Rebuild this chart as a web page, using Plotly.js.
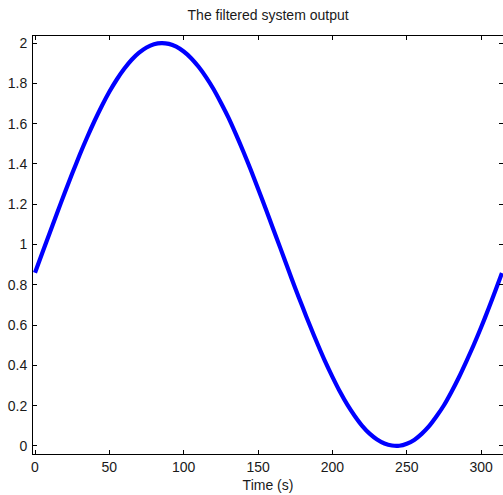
<!DOCTYPE html>
<html>
<head>
<meta charset="utf-8">
<script src="https://cdn.plot.ly/plotly-3.0.1.min.js"></script>
<style>html,body{margin:0;padding:0;background:#fff;}#chart{width:503px;height:495px;}</style>
</head>
<body>
<div id="chart"></div>
<script>
// Time samples (s) and the filtered output
var timeS = [0, 5, 10, 15, 20, 25, 30, 35, 40, 45, 50, 55, 60, 65, 70, 75, 80, 85, 90, 95, 100, 105, 110, 115, 120, 125, 130, 135, 140, 145, 150, 155, 160, 165, 170, 175, 180, 185, 190, 195, 200, 205, 210, 215, 220, 225, 230, 235, 240, 245, 250, 255, 260, 265, 270, 275, 280, 285, 290, 295, 300, 305, 310, 314];
var outputY = [0.86, 0.96, 1.06, 1.159, 1.257, 1.352, 1.444, 1.531, 1.613, 1.689, 1.758, 1.819, 1.872, 1.917, 1.952, 1.978, 1.994, 2.0, 1.996, 1.982, 1.958, 1.925, 1.882, 1.831, 1.772, 1.704, 1.631, 1.549, 1.463, 1.372, 1.277, 1.18, 1.081, 0.982, 0.882, 0.783, 0.688, 0.595, 0.506, 0.421, 0.343, 0.27, 0.205, 0.149, 0.10, 0.061, 0.032, 0.012, 0.002, 0.001, 0.011, 0.03, 0.06, 0.098, 0.147, 0.202, 0.268, 0.34, 0.419, 0.501, 0.589, 0.682, 0.779, 0.858];
var xTicks = [0, 50, 100, 150, 200, 250, 300];
var yTicks = [0, 0.2, 0.4, 0.6, 0.8, 1, 1.2, 1.4, 1.6, 1.8, 2];
var yTickText = ['0', '0.2', '0.4', '0.6', '0.8', '1', '1.2', '1.4', '1.6', '1.8', '2'];

var font = {family: 'Liberation Sans, Arial, sans-serif', size: 14, color: '#1a1a1a'};
var trace = {
  x: timeS, y: outputY, type: 'scatter', mode: 'lines',
  line: {color: '#0000ff', width: 4.2, shape: 'spline', smoothing: 0.8},
  hoverinfo: 'skip'
};
var axisCommon = {
  showgrid: false, zeroline: false, showline: true, linecolor: '#000', linewidth: 1,
  ticks: 'inside', ticklen: 4, tickcolor: '#000', tickwidth: 1, mirror: 'ticks',
  tickfont: font, fixedrange: true
};
var layout = {
  width: 503, height: 495,
  margin: {l: 33, r: 0, t: 36, b: 41},
  paper_bgcolor: '#fff', plot_bgcolor: '#fff',
  showlegend: false,
  font: font,
  title: {text: 'The filtered system output', font: font, x: 0.533, xanchor: 'center', y: 0.97, yanchor: 'middle'},
  xaxis: Object.assign({}, axisCommon, {
    range: [-1.35, 314.7], tickvals: xTicks, ticktext: xTicks.map(String),
    ticklabelstandoff: 0,
    title: {text: 'Time (s)', font: font, standoff: 6}
  }),
  yaxis: Object.assign({}, axisCommon, {
    range: [-0.04, 2.035], tickvals: yTicks, ticktext: yTickText,
    ticklabelstandoff: 2
  })
};
Plotly.newPlot('chart', [trace], layout, {staticPlot: true, displayModeBar: false});
</script>
</body>
</html>
